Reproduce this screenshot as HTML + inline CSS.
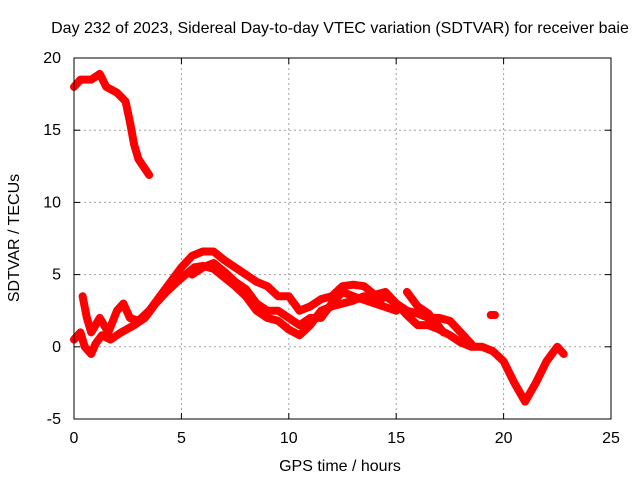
<!DOCTYPE html>
<html><head><meta charset="utf-8"><style>
body{margin:0;background:#fff;width:640px;height:480px;overflow:hidden}
svg text{font-family:"Liberation Sans",sans-serif;font-size:16px;fill:#000}
</style></head><body>
<svg id="chart" width="640" height="480">
<text x="340" y="33" text-anchor="middle">Day 232 of 2023, Sidereal Day-to-day VTEC variation (SDTVAR) for receiver baie</text>
<text x="340" y="471" text-anchor="middle">GPS time / hours</text>
<text transform="translate(19,238) rotate(-90)" text-anchor="middle">SDTVAR / TECUs</text>
<g id="grid"></g><g id="ticks"></g><g id="marks"></g>
<rect x="74" y="58" width="537" height="361" fill="none" stroke="#000" stroke-width="1"/>
</svg>
<script>
const xTicks=[0,5,10,15,20,25];
const yTicks=[-5,0,5,10,15,20];
const seriesTop=[[0,18.0],[0.3,18.5],[0.8,18.5],[1.2,18.9],[1.5,18.0],[2.0,17.6],[2.4,17.0],[2.6,15.6],[2.8,14.0],[3.0,13.0],[3.5,11.9]];
const seriesLow=[[0,0.5],[0.3,1.0],[0.5,0],[0.8,-0.5],[1.0,0.2],[1.3,0.8],[1.7,0.5],[2.2,1.0],[2.8,1.5],[3.3,2.0],[3.8,3.0],[4.3,3.8],[4.8,4.5],[5.2,5.0],[5.6,5.5],[6.0,5.6],[6.5,5.4],[7.0,4.8],[7.5,4.2],[8.0,3.5],[8.5,2.5],[9.0,2.0],[9.5,1.8],[10.0,1.2],[10.5,0.8],[11.0,1.5],[11.5,2.5],[12.0,2.8],[12.5,3.0],[13.0,3.2],[13.5,3.5],[14,3.0],[14.5,3.5],[15,3.0],[15.5,2.2],[16,1.5],[16.5,1.5],[17,1.2],[17.5,0.8],[18,0.3],[18.5,0],[19,0],[19.5,-0.3],[20,-1.0],[20.5,-2.5],[21,-3.8],[21.5,-2.5],[22,-1.0],[22.5,0],[22.8,-0.5]];
const seriesHigh=[[0.4,3.5],[0.6,2.0],[0.8,1.0],[1.2,2.0],[1.6,1.0],[2.0,2.5],[2.3,3.0],[2.6,2.0],[3.0,1.8],[3.5,2.5],[4.0,3.5],[4.5,4.5],[5.0,5.5],[5.5,6.3],[6,6.6],[6.5,6.6],[7,6.0],[7.5,5.5],[8,5.0],[8.5,4.5],[9,4.2],[9.5,3.5],[10,3.5],[10.5,2.5],[11,2.8],[11.5,3.3],[12,3.5],[12.5,4.2],[13,4.3],[13.5,4.2],[14,3.6],[14.5,3.8],[15,3.0],[15.5,2.5],[16,2.3],[16.5,2.0],[17,2.0],[17.5,1.8],[18,1.0],[18.5,0.2]];
const seriesMid=[[5.5,5.0],[6,5.5],[6.5,5.8],[7,5.2],[7.5,4.5],[8,4.0],[8.5,3.0],[9,2.5],[9.5,2.5],[10,2.0],[10.5,1.5],[11,2.0],[11.5,2.0],[12,3.0],[12.5,3.8],[13,3.5],[14,3.0],[15,2.5]];
const seriesExtra=[[15.5,3.8],[16,2.8],[16.5,2.3],[17.2,1.0]];
const seriesBlob=[[19.4,2.2],[19.6,2.2]];
const NS="http://www.w3.org/2000/svg";
const X=h=>74+h*537/25, Y=v=>346.8-v*361/25;
const grid=document.getElementById('grid'),ticks=document.getElementById('ticks'),marks=document.getElementById('marks');
function mk(t,a,p){const e=document.createElementNS(NS,t);for(const k in a)e.setAttribute(k,a[k]);p.appendChild(e);return e;}
xTicks.forEach(t=>{const x=X(t);
 if(t>0&&t<25){const g=mk('line',{x1:x,x2:x,y1:58,y2:419,stroke:'#a0a0a0','stroke-dasharray':'2,3'},grid);
 
 }
 const l=mk('text',{x:x,y:443,'text-anchor':'middle'},ticks);l.textContent=t;
 
 
 mk('line',{x1:x,x2:x,y1:419,y2:413,stroke:'#000'},ticks);mk('line',{x1:x,x2:x,y1:58,y2:64,stroke:'#000'},ticks);});
yTicks.forEach(t=>{const y=Y(t);
 if(t>-5&&t<20){const g=mk('line',{x1:74,x2:611,y1:y,y2:y,stroke:'#a0a0a0','stroke-dasharray':'2,3'},grid);
 
 }
 const l=mk('text',{x:61,y:y+5,'text-anchor':'end'},ticks);l.textContent=t;
 
 
 mk('line',{x1:74,x2:80,y1:y,y2:y,stroke:'#000'},ticks);mk('line',{x1:611,x2:605,y1:y,y2:y,stroke:'#000'},ticks);});
[[seriesTop,'series-top'],[seriesLow,'series-low-strand'],[seriesHigh,'series-high-strand'],[seriesMid,'series-mid-strand'],[seriesExtra,'series-extra-strand'],[seriesBlob,'series-blob']].forEach(([s,n])=>{
 const p=mk('polyline',{points:s.map(d=>X(d[0])+','+Y(d[1])).join(' '),fill:'none',stroke:'#ff0000','stroke-width':8,'stroke-linejoin':'round','stroke-linecap':'round'},marks);
 
 
});
</script>
</body></html>
